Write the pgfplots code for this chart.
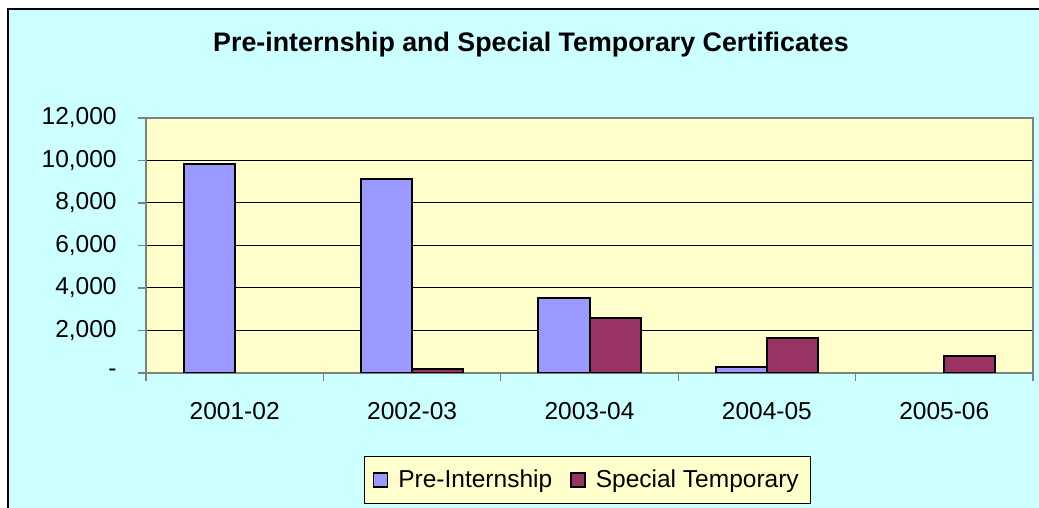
\documentclass[border=0pt]{standalone}
\usepackage{pgfplots}
\pgfplotsset{compat=1.18}
\usepackage{fontspec}
\setmainfont{Liberation Sans}
\definecolor{bgc}{HTML}{CCFFFF}
\definecolor{plotc}{HTML}{FFFFCC}
\definecolor{prec}{HTML}{9999FF}
\definecolor{stc}{HTML}{993366}
\definecolor{axc}{HTML}{808080}
\begin{document}
\begin{tikzpicture}
\useasboundingbox (0,0) rectangle (519.5pt,254pt);
\fill[white] (0,0) rectangle (519.5pt,254pt);
\fill[bgc] (4pt,0) rectangle (519.5pt,249.5pt);
\draw[black,line width=1pt] (4pt,0) -- (4pt,249.5pt) -- (519.5pt,249.5pt);
\begin{axis}[
  at={(73pt,67.5pt)}, anchor=south west,
  width=443.5pt, height=127.5pt, scale only axis,
  axis background/.style={fill=plotc},
  xmin=-0.5, xmax=4.5, ymin=0, ymax=12000,
  scaled y ticks=false,
  ybar=0pt, bar width=0.288,
  xtick={0,1,2,3,4},
  xticklabels={2001-02,2002-03,2003-04,2004-05,2005-06},
  minor xtick={-0.5,0.5,1.5,2.5,3.5,4.5},
  ytick={0,2000,4000,6000,8000,10000},
  yticklabels={-,{2,000},{4,000},{6,000},{8,000},{10,000}},
  extra y ticks={12000},
  extra y tick labels={12{,}000},
  extra y tick style={grid=none},
  tick align=outside, tick pos=left,
  major tick length=4pt, minor tick length=4pt,
  xtick style={draw=none},
  minor x tick style={draw=axc, line width=0.6pt},
  y tick style={draw=axc, line width=0.6pt},
  ymajorgrids, major grid style={black, line width=0.5pt},
  axis line style={draw=axc, line width=1pt},
  ticklabel style={font=\fontsize{12.25}{14}\selectfont},
  yticklabel style={anchor=east, inner sep=0pt, xshift=-10.5pt},
  xticklabel style={anchor=north, inner sep=0pt, yshift=-10.35pt},
  title={Pre-internship and Special Temporary Certificates},
  title style={at={(0.434,1.30)}, anchor=center, yshift=-7.5pt, font=\fontsize{13.4}{15}\selectfont\bfseries},
  legend columns=2,
  legend style={at={(0.498,-0.42)}, anchor=center, fill=plotc, draw=black, line width=0.5pt,
    font=\fontsize{12.25}{14}\selectfont, inner xsep=4pt, inner ysep=4.75pt,
    /tikz/every odd column/.append style={column sep=3pt},
    /tikz/every even column/.append style={column sep=7pt}},
  legend image code/.code={\draw[#1, line width=0.8pt] (0pt,-3.5pt) rectangle (7pt,3.5pt);},
]
\addplot[fill=prec, draw=black, line width=1pt] coordinates {(0,9830) (1,9150) (2,3530) (3,270)};
\addplot[fill=stc, draw=black, line width=1pt] coordinates {(1,180) (2,2590) (3,1670) (4,810)};
\legend{Pre-Internship, Special Temporary}
\end{axis}
\end{tikzpicture}
\end{document}
